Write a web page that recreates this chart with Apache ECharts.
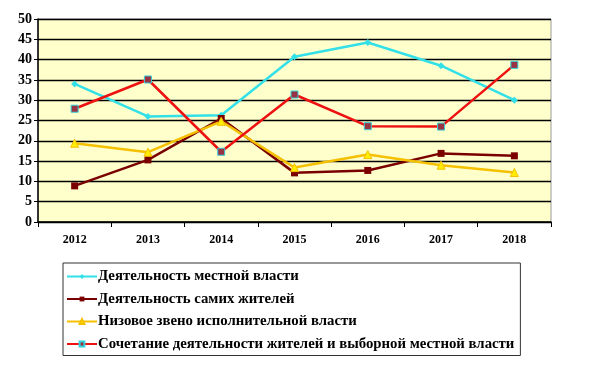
<!DOCTYPE html>
<html><head><meta charset="utf-8">
<script src="https://cdn.jsdelivr.net/npm/echarts@6/dist/echarts.min.js"></script>
<style>html,body{margin:0;padding:0;background:#fff}#c{width:600px;height:383px}</style>
</head><body><div id="c"></div>
<script>
const years = ['2012','2013','2014','2015','2016','2017','2018'];
const seriesNames = [
  'Деятельность местной власти',
  'Деятельность самих жителей',
  'Низовое звено исполнительной власти',
  'Сочетание деятельности жителей и выборной местной власти'
];
const localAuthority = [34, 26, 26.3, 40.7, 44.2, 38.5, 30];
const residents = [8.9, 15.3, 25.5, 12.1, 12.7, 16.9, 16.3];
const executiveLevel = [19.4, 17.2, 24.8, 13.4, 16.6, 14, 12.2];
const combined = [27.9, 35.1, 17.3, 31.4, 23.6, 23.5, 38.7];
const yTicks = [0, 5, 10, 15, 20, 25, 30, 35, 40, 45, 50];

const font = '"Liberation Serif", "DejaVu Serif", serif';
const chart = echarts.init(document.getElementById('c'));
function mk(name, data, color, symbol, size, mColor, mBorder) {
  return {
    name, type: 'line', data, symbol, symbolSize: size,
    lineStyle: { color, width: 2.5 },
    itemStyle: { color: mColor || color, borderColor: mBorder || mColor || color, borderWidth: mBorder ? 1 : 0 },
    z: 3
  };
}
chart.setOption({
  animation: false,
  backgroundColor: '#fff',
  grid: { left: 38, right: 49, top: 19, bottom: 161, show: true, backgroundColor: '#FFFFCC', borderColor: '#9a9a9a', borderWidth: 1 },
  xAxis: {
    type: 'category', data: years, boundaryGap: true,
    axisLine: { lineStyle: { color: '#000', width: 1.5 } },
    axisTick: { show: true, length: 5, lineStyle: { color: '#000' } },
    axisLabel: { color: '#000', fontFamily: font, fontWeight: 'bold', fontSize: 12, margin: 12 }
  },
  yAxis: {
    type: 'value', min: 0, max: 50, interval: 5,
    axisLine: { show: true, lineStyle: { color: '#000', width: 1.5 } },
    axisTick: { show: true, length: 4, lineStyle: { color: '#000' } },
    splitLine: { lineStyle: { color: '#000', width: 1.3 } },
    axisLabel: { color: '#000', fontFamily: font, fontWeight: 'bold', fontSize: 14, margin: 6,
      formatter: v => yTicks.includes(v) ? String(v) : '' }
  },
  legend: {
    orient: 'vertical', left: 63, top: 263,
    borderColor: '#333', borderWidth: 1, padding: [6, 6, 4, 3],
    itemGap: 7.5, itemWidth: 30, itemHeight: 6,
    textStyle: { color: '#000', fontFamily: font, fontWeight: 'bold', fontSize: 14.8, padding: [0, 0, 0, -4], lineHeight: 14 },
    data: seriesNames
  },
  series: [
    mk(seriesNames[0], localAuthority, '#33E0E8', 'diamond', 7),
    mk(seriesNames[1], residents, '#7A0000', 'rect', 7),
    mk(seriesNames[2], executiveLevel, '#F5C000', 'triangle', 8, '#FFEE00', '#F5C000'),
    mk(seriesNames[3], combined, '#EE1111', 'rect', 7, '#993344', '#33D0D8')
  ]
});
</script></body></html>
